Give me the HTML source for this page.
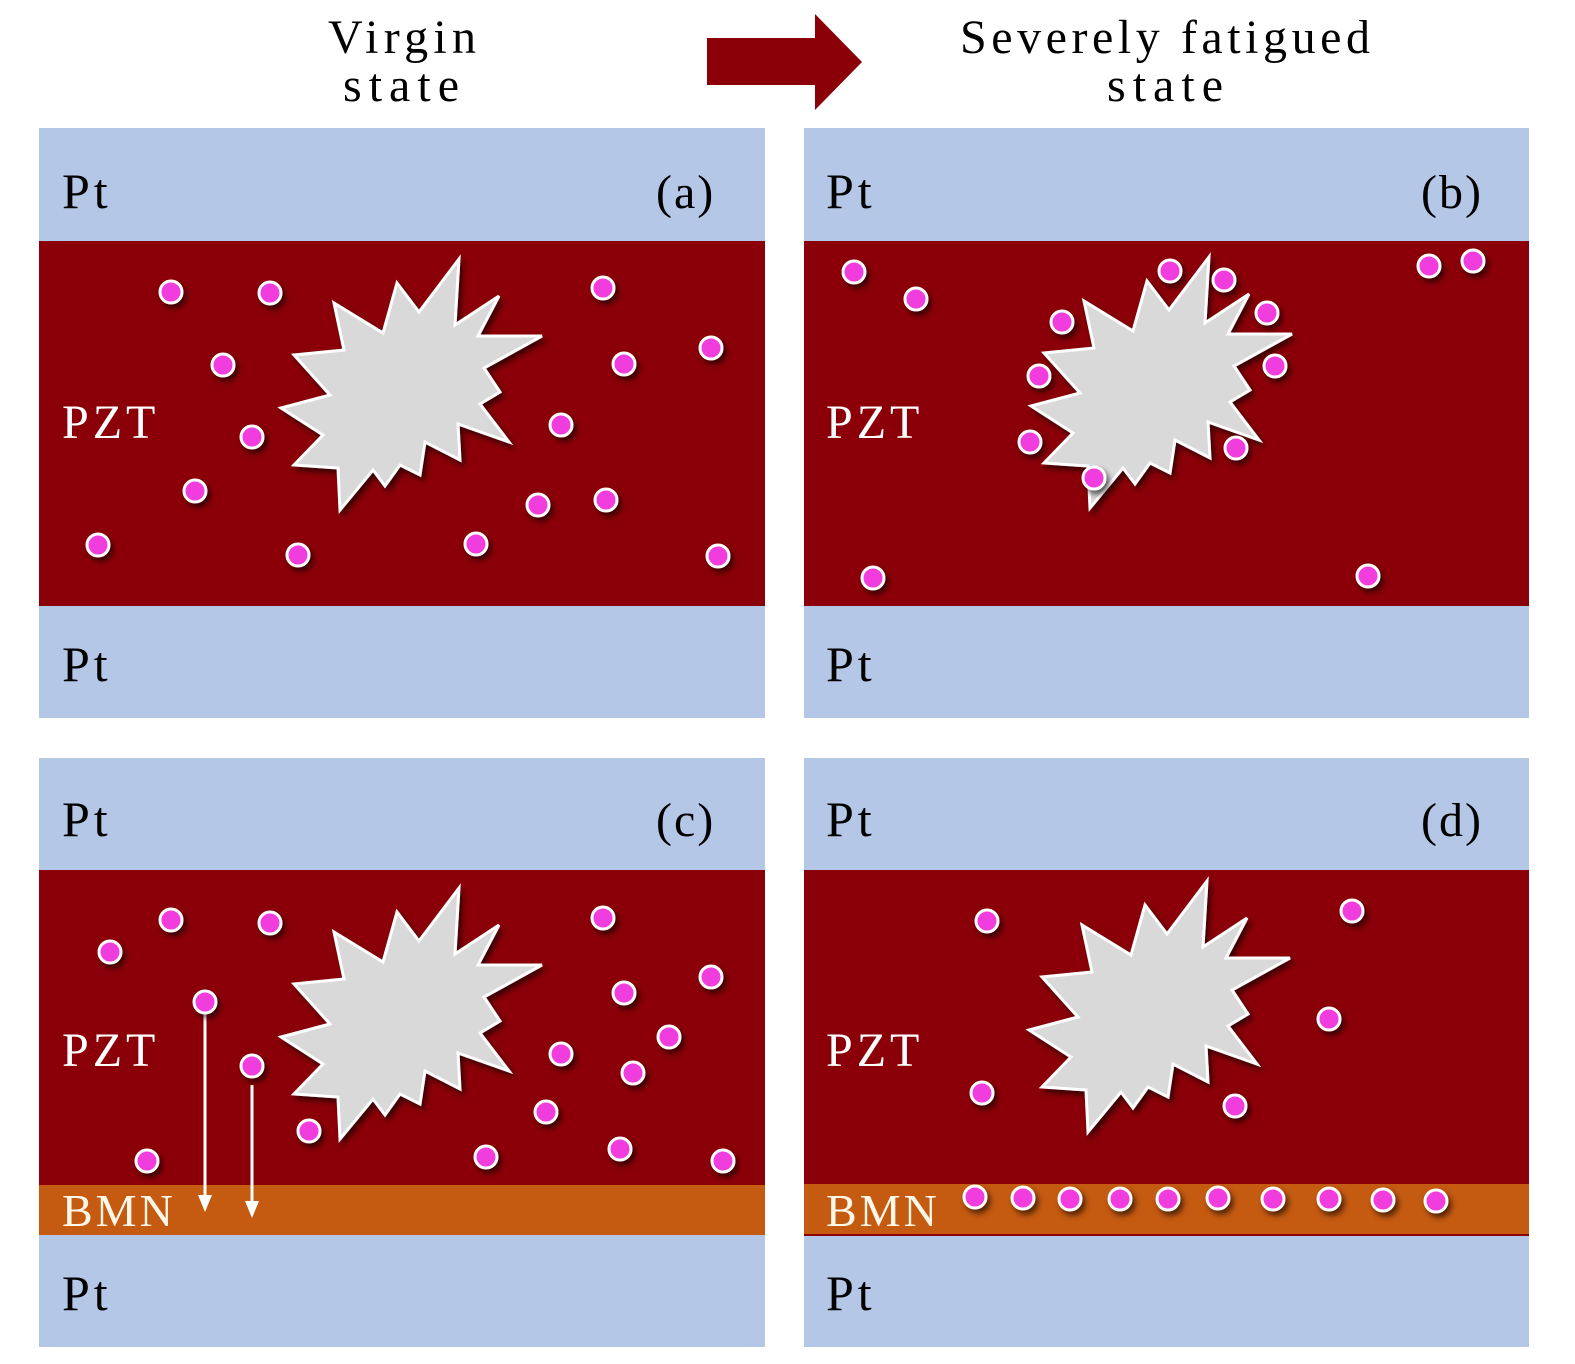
<!DOCTYPE html>
<html><head><meta charset="utf-8"><style>
html,body{margin:0;padding:0;background:#fff;overflow:hidden;width:1575px;height:1364px;}
svg{display:block;}
text{font-family:"Liberation Serif",serif;}
</style></head><body>
<svg width="1575" height="1364" viewBox="0 0 1575 1364" xmlns="http://www.w3.org/2000/svg">
<defs>
<filter id="sh" x="-30%" y="-30%" width="160%" height="160%">
<feGaussianBlur in="SourceAlpha" stdDeviation="3"/>
<feOffset dx="3" dy="4" result="b"/>
<feComponentTransfer><feFuncA type="linear" slope="0.6"/></feComponentTransfer>
<feMerge><feMergeNode/><feMergeNode in="SourceGraphic"/></feMerge>
</filter>
<polygon id="star" points="459,259 455,325 499,296 478,336 542,336 484,368 500,392 480,404 509,442 458,424 460,460 425,442 420,475 400,465 385,486 373,470 340,510 338,468 294,465 323,435 281,408 330,395 294,355 344,350 334,303 383,333 397,283 419,312" fill="#d9d9d9" stroke="#fff" stroke-width="3" stroke-linejoin="miter"/>
<circle id="d" r="11" fill="#f23cde" stroke="#fff" stroke-width="3"/>
</defs>

<g font-size="48" fill="#000" text-anchor="middle">
<text x="402" y="53" textLength="148" lengthAdjust="spacing">Virgin</text>
<text x="401" y="101" textLength="116" lengthAdjust="spacing">state</text>
<text x="1165" y="53" textLength="410" lengthAdjust="spacing">Severely fatigued</text>
<text x="1165" y="101" textLength="116" lengthAdjust="spacing">state</text>
</g>
<polygon points="707,38 815,38 815,14 862,62 815,110 815,85 707,85" fill="#8b0008"/>

<rect x="39" y="128" width="726" height="113" fill="#b4c7e7"/>
<rect x="39" y="241" width="726" height="365" fill="#8b0008"/>
<rect x="39" y="606" width="726" height="112" fill="#b4c7e7"/>
<rect x="804" y="128" width="725" height="113" fill="#b4c7e7"/>
<rect x="804" y="241" width="725" height="365" fill="#8b0008"/>
<rect x="804" y="606" width="725" height="112" fill="#b4c7e7"/>
<rect x="39" y="758" width="726" height="112" fill="#b4c7e7"/>
<rect x="39" y="870" width="726" height="315" fill="#8b0008"/>
<rect x="39" y="1185" width="726" height="50" fill="#c55a11"/>
<rect x="39" y="1235" width="726" height="112" fill="#b4c7e7"/>
<rect x="804" y="758" width="725" height="112" fill="#b4c7e7"/>
<rect x="804" y="870" width="725" height="314" fill="#8b0008"/>
<rect x="804" y="1184" width="725" height="50" fill="#c55a11"/>
<rect x="804" y="1234" width="725" height="2" fill="#8b0008"/>
<rect x="804" y="1236" width="725" height="111" fill="#b4c7e7"/>

<g font-size="50" fill="#000" letter-spacing="4">
<text x="62" y="208">Pt</text>
<text x="62" y="681">Pt</text>
<text x="826" y="208">Pt</text>
<text x="826" y="681">Pt</text>
<text x="62" y="836">Pt</text>
<text x="62" y="1310">Pt</text>
<text x="826" y="836">Pt</text>
<text x="826" y="1310">Pt</text>
</g>
<g font-size="48" fill="#000" letter-spacing="2">
<text x="656" y="208">(a)</text>
<text x="1421" y="208">(b)</text>
<text x="656" y="836">(c)</text>
<text x="1421" y="836">(d)</text>
</g>
<g font-size="48" fill="#fff" letter-spacing="4">
<text x="62" y="438">PZT</text>
<text x="826" y="438">PZT</text>
<text x="62" y="1066">PZT</text>
<text x="826" y="1066">PZT</text>
</g>
<g font-size="46" fill="#fff8e8" letter-spacing="3">
<text x="62" y="1226">BMN</text>
<text x="826" y="1226">BMN</text>
</g>

<g filter="url(#sh)">
<use href="#star"/>
<use href="#star" transform="translate(750,-2)"/>
<use href="#star" transform="translate(0,629)"/>
<use href="#star" transform="translate(748,622)"/>
</g>

<g stroke="#fff" stroke-width="3" fill="#fff">
<line x1="205" y1="1012" x2="205" y2="1200"/>
<polygon points="198,1195 212,1195 205,1212" stroke="none"/>
<line x1="252" y1="1085" x2="252" y2="1206"/>
<polygon points="245,1201 259,1201 252,1218" stroke="none"/>
</g>

<g filter="url(#sh)">
<use href="#d" x="171" y="292"/><use href="#d" x="270" y="293"/><use href="#d" x="223" y="365"/>
<use href="#d" x="252" y="437"/><use href="#d" x="195" y="491"/><use href="#d" x="98" y="545"/>
<use href="#d" x="298" y="555"/><use href="#d" x="603" y="288"/><use href="#d" x="711" y="348"/>
<use href="#d" x="624" y="364"/><use href="#d" x="561" y="425"/><use href="#d" x="538" y="505"/>
<use href="#d" x="606" y="500"/><use href="#d" x="476" y="544"/><use href="#d" x="718" y="556"/>
<use href="#d" x="854" y="272"/><use href="#d" x="916" y="299"/><use href="#d" x="1062" y="322"/>
<use href="#d" x="1039" y="376"/><use href="#d" x="1030" y="442"/><use href="#d" x="1094" y="478"/>
<use href="#d" x="1170" y="271"/><use href="#d" x="1224" y="280"/><use href="#d" x="1267" y="313"/>
<use href="#d" x="1275" y="366"/><use href="#d" x="1236" y="448"/><use href="#d" x="1429" y="266"/>
<use href="#d" x="1473" y="261"/><use href="#d" x="873" y="578"/><use href="#d" x="1368" y="576"/>
<use href="#d" x="110" y="952"/><use href="#d" x="171" y="920"/><use href="#d" x="270" y="923"/>
<use href="#d" x="205" y="1002"/><use href="#d" x="252" y="1066"/><use href="#d" x="147" y="1161"/>
<use href="#d" x="309" y="1131"/><use href="#d" x="603" y="918"/><use href="#d" x="711" y="977"/>
<use href="#d" x="624" y="993"/><use href="#d" x="669" y="1037"/><use href="#d" x="561" y="1054"/>
<use href="#d" x="633" y="1073"/><use href="#d" x="546" y="1112"/><use href="#d" x="486" y="1157"/>
<use href="#d" x="620" y="1149"/><use href="#d" x="723" y="1161"/>
<use href="#d" x="987" y="921"/><use href="#d" x="1352" y="911"/><use href="#d" x="1329" y="1019"/>
<use href="#d" x="982" y="1093"/><use href="#d" x="1235" y="1106"/>
<use href="#d" x="975" y="1197"/><use href="#d" x="1023" y="1198"/><use href="#d" x="1070" y="1199"/>
<use href="#d" x="1120" y="1199"/><use href="#d" x="1168" y="1199"/><use href="#d" x="1218" y="1198"/>
<use href="#d" x="1273" y="1199"/><use href="#d" x="1329" y="1199"/><use href="#d" x="1383" y="1200"/>
<use href="#d" x="1436" y="1201"/>
</g>
</svg>
</body></html>
